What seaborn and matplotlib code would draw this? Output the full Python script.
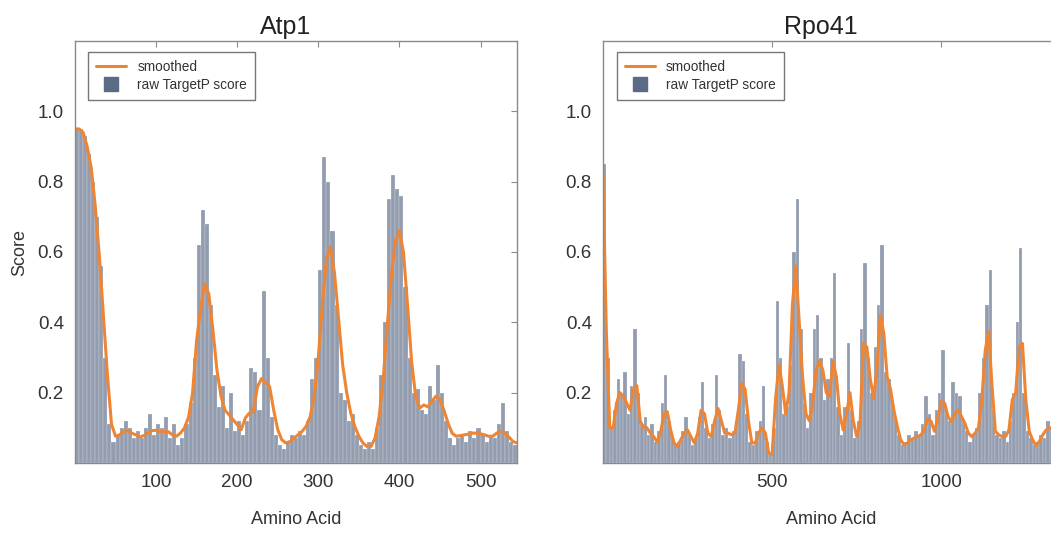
import numpy as np
import pandas as pd
import matplotlib
matplotlib.use("Agg")
import matplotlib.pyplot as plt
from matplotlib.lines import Line2D
import seaborn as sns

# Atp1: raw TargetP score in 5-aa bins, smoothed curve sampled every 5 aa
atp1_len = 545
atp1_bin = 5
atp1_raw = [0.95, 0.95, 0.93, 0.88, 0.80, 0.70, 0.56, 0.30, 0.11, 0.06,
            0.08, 0.10, 0.12, 0.10, 0.07, 0.09, 0.07, 0.10, 0.14, 0.08,
            0.11, 0.10, 0.13, 0.07, 0.11, 0.05, 0.07, 0.11, 0.17, 0.30,
            0.62, 0.72, 0.68, 0.45, 0.25, 0.16, 0.22, 0.10, 0.20, 0.09,
            0.12, 0.08, 0.12, 0.27, 0.26, 0.15, 0.49, 0.30, 0.13, 0.08,
            0.05, 0.04, 0.06, 0.08, 0.07, 0.09, 0.08, 0.12, 0.24, 0.30,
            0.55, 0.87, 0.80, 0.66, 0.45, 0.20, 0.18, 0.12, 0.14, 0.08,
            0.05, 0.04, 0.06, 0.04, 0.10, 0.25, 0.40, 0.75, 0.82, 0.78,
            0.76, 0.50, 0.30, 0.20, 0.21, 0.15, 0.14, 0.22, 0.18, 0.28,
            0.20, 0.12, 0.07, 0.05, 0.07, 0.08, 0.06, 0.09, 0.07, 0.10,
            0.08, 0.06, 0.08, 0.07, 0.11, 0.17, 0.09, 0.06, 0.05]
atp1_smooth = [0.95, 0.95, 0.94, 0.90, 0.84, 0.73, 0.59, 0.42, 0.25, 0.11,
               0.076, 0.08, 0.09, 0.092, 0.085, 0.08, 0.074, 0.078, 0.085, 0.092,
               0.093, 0.089, 0.09, 0.089, 0.08, 0.076, 0.085, 0.10, 0.13, 0.20,
               0.35, 0.44, 0.51, 0.48, 0.38, 0.265, 0.19, 0.15, 0.137, 0.123,
               0.109, 0.095, 0.128, 0.142, 0.147, 0.217, 0.24, 0.23, 0.217, 0.15,
               0.095, 0.066, 0.057, 0.061, 0.071, 0.08, 0.09, 0.104, 0.132, 0.19,
               0.30, 0.45, 0.58, 0.615, 0.54, 0.41, 0.28, 0.20, 0.142, 0.104,
               0.076, 0.057, 0.047, 0.047, 0.071, 0.132, 0.236, 0.39, 0.53, 0.63,
               0.66, 0.60, 0.45, 0.29, 0.19, 0.156, 0.165, 0.16, 0.175, 0.19,
               0.18, 0.15, 0.113, 0.085, 0.076, 0.078, 0.08, 0.082, 0.085, 0.085,
               0.083, 0.08, 0.076, 0.076, 0.085, 0.09, 0.085, 0.074, 0.061, 0.057]

# Rpo41: raw TargetP score in 10-aa bins, smoothed curve sampled every 10 aa
rpo41_len = 1351
rpo41_bin = 10
rpo41_raw = [0.85, 0.30, 0.10, 0.15, 0.24, 0.19, 0.26, 0.14, 0.22, 0.38,
             0.20, 0.11, 0.13, 0.08, 0.11, 0.06, 0.09, 0.17, 0.25, 0.12,
             0.07, 0.05, 0.06, 0.09, 0.13, 0.08, 0.05, 0.07, 0.13, 0.23,
             0.10, 0.07, 0.11, 0.25, 0.15, 0.08, 0.10, 0.07, 0.09, 0.12,
             0.31, 0.29, 0.14, 0.06, 0.05, 0.09, 0.12, 0.22, 0.06, 0.03,
             0.10, 0.46, 0.30, 0.14, 0.16, 0.28, 0.60, 0.75, 0.38, 0.17,
             0.10, 0.20, 0.38, 0.42, 0.30, 0.18, 0.24, 0.30, 0.54, 0.16,
             0.08, 0.16, 0.34, 0.15, 0.07, 0.12, 0.38, 0.57, 0.30, 0.20,
             0.33, 0.45, 0.62, 0.26, 0.24, 0.17, 0.13, 0.08, 0.05, 0.06,
             0.08, 0.07, 0.09, 0.08, 0.11, 0.19, 0.14, 0.08, 0.15, 0.20,
             0.32, 0.15, 0.12, 0.23, 0.20, 0.19, 0.12, 0.09, 0.06, 0.08,
             0.10, 0.20, 0.30, 0.45, 0.55, 0.15, 0.08, 0.07, 0.09, 0.06,
             0.12, 0.20, 0.40, 0.61, 0.20, 0.09, 0.07, 0.05, 0.06, 0.08,
             0.07, 0.12, 0.10, 0.09, 0.11]
rpo41_smooth = [0.82, 0.37, 0.10, 0.10, 0.17, 0.20, 0.19, 0.17, 0.15, 0.21,
                0.22, 0.12, 0.10, 0.10, 0.085, 0.075, 0.06, 0.085, 0.14, 0.146,
                0.094, 0.057, 0.047, 0.066, 0.085, 0.094, 0.075, 0.057, 0.085, 0.15,
                0.14, 0.085, 0.075, 0.12, 0.155, 0.12, 0.085, 0.085, 0.08, 0.085,
                0.15, 0.226, 0.21, 0.12, 0.057, 0.057, 0.085, 0.10, 0.085, 0.028,
                0.024, 0.18, 0.28, 0.22, 0.14, 0.20, 0.45, 0.56, 0.40, 0.245,
                0.14, 0.12, 0.17, 0.264, 0.29, 0.264, 0.20, 0.19, 0.29, 0.245,
                0.14, 0.094, 0.14, 0.20, 0.12, 0.075, 0.113, 0.34, 0.33, 0.24,
                0.184, 0.27, 0.42, 0.37, 0.245, 0.21, 0.15, 0.104, 0.066, 0.052,
                0.057, 0.066, 0.071, 0.075, 0.08, 0.094, 0.127, 0.118, 0.09, 0.127,
                0.175, 0.17, 0.132, 0.118, 0.14, 0.15, 0.132, 0.113, 0.085, 0.075,
                0.085, 0.10, 0.18, 0.32, 0.375, 0.22, 0.09, 0.08, 0.075, 0.075,
                0.094, 0.18, 0.20, 0.33, 0.34, 0.18, 0.09, 0.066, 0.05, 0.061,
                0.08, 0.094, 0.10, 0.10, 0.095, 0.09]

assert len(atp1_raw) == 109 and len(atp1_smooth) == 110
assert len(rpo41_raw) == 135 and len(rpo41_smooth) == 136

bar_color = "#5b6b86"
line_color = "#ee8534"
frame_color = "#8a8a8a"

sns.set_style("white")
plt.rcParams["font.family"] = ["Liberation Sans", "DejaVu Sans"]

fig = plt.figure(figsize=(10.51, 5.38), dpi=100)
ax1 = fig.add_axes([75 / 1051, 75 / 538, 442 / 1051, 422 / 538])
ax2 = fig.add_axes([603 / 1051, 75 / 538, 457 / 1051, 422 / 538])


def draw(ax, name, length, binw, raw, smooth, xticks):
    n = len(raw)
    bars = pd.DataFrame({"aa": np.arange(n) * binw + binw / 2, "score": raw})
    sns.histplot(data=bars, x="aa", weights="score", binwidth=binw,
                 binrange=(0, n * binw), ax=ax, color=bar_color, alpha=0.66,
                 linewidth=0.15, edgecolor="white", stat="count")
    curve = pd.DataFrame({"aa": np.arange(len(smooth)) * binw, "score": smooth})
    sns.lineplot(data=curve, x="aa", y="score", ax=ax, color=line_color,
                 linewidth=2.2)

    ax.set_xlim(0, length)
    ax.set_ylim(0, 1.2)
    ax.set_xticks(xticks)
    ax.set_yticks([0.2, 0.4, 0.6, 0.8, 1.0])
    ax.set_yticklabels(["0.2", "0.4", "0.6", "0.8", "1.0"])
    ax.tick_params(direction="in", top=True, right=True, length=4,
                   color=frame_color, labelsize=13.5, labelcolor="#333333",
                   pad=8)
    for s in ax.spines.values():
        s.set_color(frame_color)
        s.set_linewidth(1.0)
    ax.set_xlabel("Amino Acid", fontsize=13, color="#333333", labelpad=14)
    ax.set_ylabel("")
    ax.set_title(name, fontsize=18, color="#222222", x=0.476, pad=5)

    handles = [Line2D([0], [0], color=line_color, lw=2.2),
               Line2D([0], [0], marker="s", color=bar_color, linestyle="none",
                      markersize=10)]
    leg = ax.legend(handles, ["smoothed", "raw TargetP score"], loc="upper left",
                    bbox_to_anchor=(0.03, 0.975), borderaxespad=0, fontsize=9.8,
                    frameon=True, fancybox=False, handlelength=2.2,
                    labelspacing=0.3, borderpad=0.6, handletextpad=0.8)
    leg.get_frame().set_edgecolor("#555555")
    leg.get_frame().set_linewidth(1.0)
    for t in leg.get_texts():
        t.set_color("#333333")


draw(ax1, "Atp1", atp1_len, atp1_bin, atp1_raw, atp1_smooth, [100, 200, 300, 400, 500])
draw(ax2, "Rpo41", rpo41_len, rpo41_bin, rpo41_raw, rpo41_smooth, [500, 1000])
ax1.set_ylabel("Score", fontsize=13, color="#333333", labelpad=7)

fig.savefig("out.png", dpi=100)
